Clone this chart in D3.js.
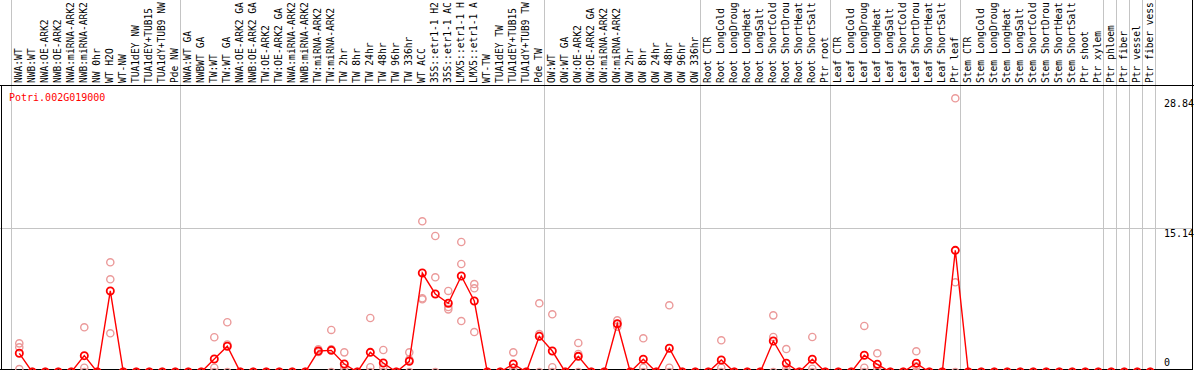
<!doctype html>
<html>
<head>
<meta charset="utf-8">
<title>Potri.002G019000</title>
<script src="https://d3js.org/d3.v7.min.js"></script>
<style>
body { margin: 0; background: #fff; }
svg { display: block; }
text { font-family: "DejaVu Sans Mono", monospace; font-size: 10px; }
text.lab { font-size: 9.6px; }
</style>
</head>
<body>
<svg class="chart"></svg>
<script>
var geneName = "Potri.002G019000";

// sample names as far as the header shows them
var labels = [
  "NWA:WT", "NWB:WT", "NWA:OE-ARK2", "NWB:OE-ARK2", "NWA:miRNA-ARK2", "NWB:miRNA-ARK2",
  "NW 0hr", "WT H2O", "WT-NW", "TUA1dEY NW", "TUA1dEY+TUB15", "TUA1dY+TUB9 NW", "Pde NW",
  "NWA:WT GA", "NWBWT GA", "TW:WT", "TW:WT GA", "NWA:OE-ARK2 GA", "NWB:OE-ARK2 GA",
  "TW:OE-ARK2", "TW:OE-ARK2 GA", "NWA:miRNA-ARK2", "NWB:miRNA-ARK2", "TW:miRNA-ARK2",
  "TW:miRNA-ARK2", "TW 2hr", "TW 8hr", "TW 24hr", "TW 48hr", "TW 96hr", "TW 336hr", "WT ACC",
  "35S::etr1-1 H2", "35S::etr1-1 AC", "LMX5::etr1-1 H", "LMX5::etr1-1 A", "WT-TW",
  "TUA1dEY TW", "TUA1dEY+TUB15", "TUA1dY+TUB9 TW", "Pde TW",
  "OW:WT", "OW:WT GA", "OW:OE-ARK2", "OW:OE-ARK2 GA", "OW:miRNA-ARK2", "OW:miRNA-ARK2",
  "OW 2hr", "OW 8hr", "OW 24hr", "OW 48hr", "OW 96hr", "OW 336hr",
  "Root CTR", "Root LongCold", "Root LongDroug", "Root LongHeat", "Root LongSalt",
  "Root ShortCold", "Root ShortDrou", "Root ShortHeat", "Root ShortSalt", "Ptr root",
  "Leaf CTR", "Leaf LongCold", "Leaf LongDroug", "Leaf LongHeat", "Leaf LongSalt",
  "Leaf ShortCold", "Leaf ShortDrou", "Leaf ShortHeat", "Leaf ShortSalt", "Ptr leaf",
  "Stem CTR", "Stem LongCold", "Stem LongDroug", "Stem LongHeat", "Stem LongSalt",
  "Stem ShortCold", "Stem ShortDrou", "Stem ShortHeat", "Stem ShortSalt", "Ptr shoot",
  "Ptr xylem", "Ptr phloem", "Ptr fiber", "Ptr vessel", "Ptr fiber vess"
];

// mean expression per sample (red line)
var means = [
  1.97, 0, 0, 0, 0, 1.72, 0, 8.54, 0, 0, 0, 0, 0,
  0, 0, 1.37, 2.71, 0, 0, 0, 0, 0, 0, 2.21, 2.28, 0.84, 0, 2.07, 0.95, 0, 1.13,
  10.43, 8.22, 7.24, 10.12, 7.48, 0, 0, 0.84, 0, 3.76,
  2.21, 0, 1.65, 0, 0, 5.09, 0, 1.34, 0, 2.5, 0, 0,
  0, 1.26, 0, 0, 0, 3.27, 0.92, 0, 1.34, 0,
  0, 0, 1.76, 0.81, 0, 0, 0.92, 0, 0, 12.82,
  0, 0, 0, 0, 0, 0, 0, 0, 0, 0,
  0, 0, 0, 0, 0
];

// individual replicates (pink circles)
var reps = [
  [3.02, 2.6, 0.3], [0, 0, 0], [0, 0, 0], [0, 0, 0], [0, 0, 0], [4.71, 0.45, 0], [0, 0, 0],
  [11.56, 9.77, 4.08], [0, 0, 0], [0, 0, 0], [0, 0, 0], [0, 0, 0], [0, 0, 0],
  [0, 0, 0], [0, 0, 0], [3.66, 0.45, 0], [5.24, 2.9, 0], [0, 0, 0], [0, 0, 0], [0, 0, 0],
  [0, 0, 0], [0, 0, 0], [0, 0, 0], [2.4, 2.1, 2.13], [4.43, 2.4, 0], [2.07, 0.45, 0],
  [0, 0, 0], [5.69, 0.5, 0], [2.32, 0.5, 0], [0, 0, 0], [2.07, 1.3, 0],
  [15.88, 7.77, 7.66], [14.33, 9.98, 0], [8.54, 6.85, 6.6], [13.7, 11.38, 5.37],
  [9.27, 8.82, 4.21], [0, 0, 0], [0, 0, 0], [2.07, 0.45, 0], [0, 0, 0], [7.24, 4.0, 0],
  [6.08, 0.5, 0], [0, 0, 0], [3.06, 1.9, 0], [0, 0, 0], [0, 0, 0], [5.45, 5.05, 4.78],
  [0, 0, 0], [3.55, 0.45, 0], [0, 0, 0], [7.03, 0.45, 0], [0, 0, 0], [0, 0, 0],
  [0, 0, 0], [3.34, 0.45, 0], [0, 0, 0], [0, 0, 0], [0, 0, 0], [5.97, 3.69, 0],
  [2.42, 0.35, 0], [0, 0, 0], [3.69, 0.35, 0], [0, 0, 0],
  [0, 0, 0], [0, 0, 0], [4.85, 0.45, 0], [1.97, 0.45, 0], [0, 0, 0], [0, 0, 0],
  [2.18, 0.6, 0], [0, 0, 0], [0, 0, 0], [28.84, 9.45, 0],
  [0, 0, 0], [0, 0, 0], [0, 0, 0], [0, 0, 0], [0, 0, 0], [0, 0, 0], [0, 0, 0],
  [0, 0, 0], [0, 0, 0], [0, 0, 0],
  [0, 0, 0], [0, 0, 0], [0, 0, 0], [0, 0, 0], [0, 0, 0]
];

// sample index where a new group starts (gray separators)
var groupStarts = [0, 13, 41, 53, 63, 73, 84, 85, 86, 87, 88];
var yTicks = [0, 15.14, 28.84];

var width = 1194, height = 370;
var headerH = 85;
var svg = d3.select(".chart").attr("width", width).attr("height", height);

svg.append("rect").attr("width", width).attr("height", height).attr("fill", "#fff");

var xs = d3.scaleLinear().domain([0, labels.length]).range([11, 1155]);
var ptOff = 8.3;
function cx(i) { return xs(i) + ptOff; }
var y = d3.scaleLinear().domain([0, 28.84]).range([372, 98.3]);

// gray separators
svg.selectAll(".sep").data(groupStarts).enter().append("line")
    .attr("x1", d => Math.round(xs(d)) + 0.5).attr("x2", d => Math.round(xs(d)) + 0.5)
    .attr("y1", 0).attr("y2", height)
    .attr("stroke", "#c4c4c4").attr("stroke-width", 1);

// mid gridline
svg.append("line")
    .attr("x1", 0).attr("x2", 1192)
    .attr("y1", Math.round(y(yTicks[1])) + 0.5).attr("y2", Math.round(y(yTicks[1])) + 0.5)
    .attr("stroke", "#c4c4c4").attr("stroke-width", 1);

// frame
svg.append("line").attr("x1", 0).attr("x2", width).attr("y1", headerH + 0.5).attr("y2", headerH + 0.5)
    .attr("stroke", "#000");
svg.append("line").attr("x1", 0).attr("x2", 1192).attr("y1", 369.5).attr("y2", 369.5)
    .attr("stroke", "#000");
svg.append("line").attr("x1", 1.5).attr("x2", 1.5).attr("y1", headerH).attr("y2", height)
    .attr("stroke", "#000");
svg.append("line").attr("x1", 1192.5).attr("x2", 1192.5).attr("y1", 0).attr("y2", height)
    .attr("stroke", "#000");

// sample labels, rotated
svg.selectAll(".lab").data(labels).enter().append("text")
    .attr("class", "lab")
    .attr("transform", (d, i) => "translate(" + (cx(i) + 2.5) + "," + (headerH - 2) + ") rotate(-90)")
    .attr("fill", "#000")
    .text(d => d);

// y tick labels
svg.selectAll(".tick").data(yTicks).enter().append("text")
    .attr("x", 1164)
    .attr("y", d => Math.min(y(d) + 9, 366))
    .attr("fill", "#000")
    .text(d => d);

svg.append("text").attr("x", 9).attr("y", 100.5).attr("fill", "#f00").text(geneName);

// replicates
var repPts = [];
reps.forEach((r, i) => r.forEach(v => repPts.push({i: i, v: v})));
svg.selectAll(".rep").data(repPts).enter().append("circle")
    .attr("cx", d => cx(d.i)).attr("cy", d => y(d.v)).attr("r", 3.6)
    .attr("fill", "none").attr("stroke", "#eb9a9a").attr("stroke-width", 1.4);

// mean line
var line = d3.line().x((d, i) => cx(i)).y(d => y(d));
svg.append("path").attr("d", line(means))
    .attr("fill", "none").attr("stroke", "#f00").attr("stroke-width", 1.4);

svg.selectAll(".mean").data(means).enter().append("circle")
    .attr("cx", (d, i) => cx(i)).attr("cy", d => y(d)).attr("r", 3.6)
    .attr("fill", "none").attr("stroke", "#f00").attr("stroke-width", 1.8);
</script>
</body>
</html>
